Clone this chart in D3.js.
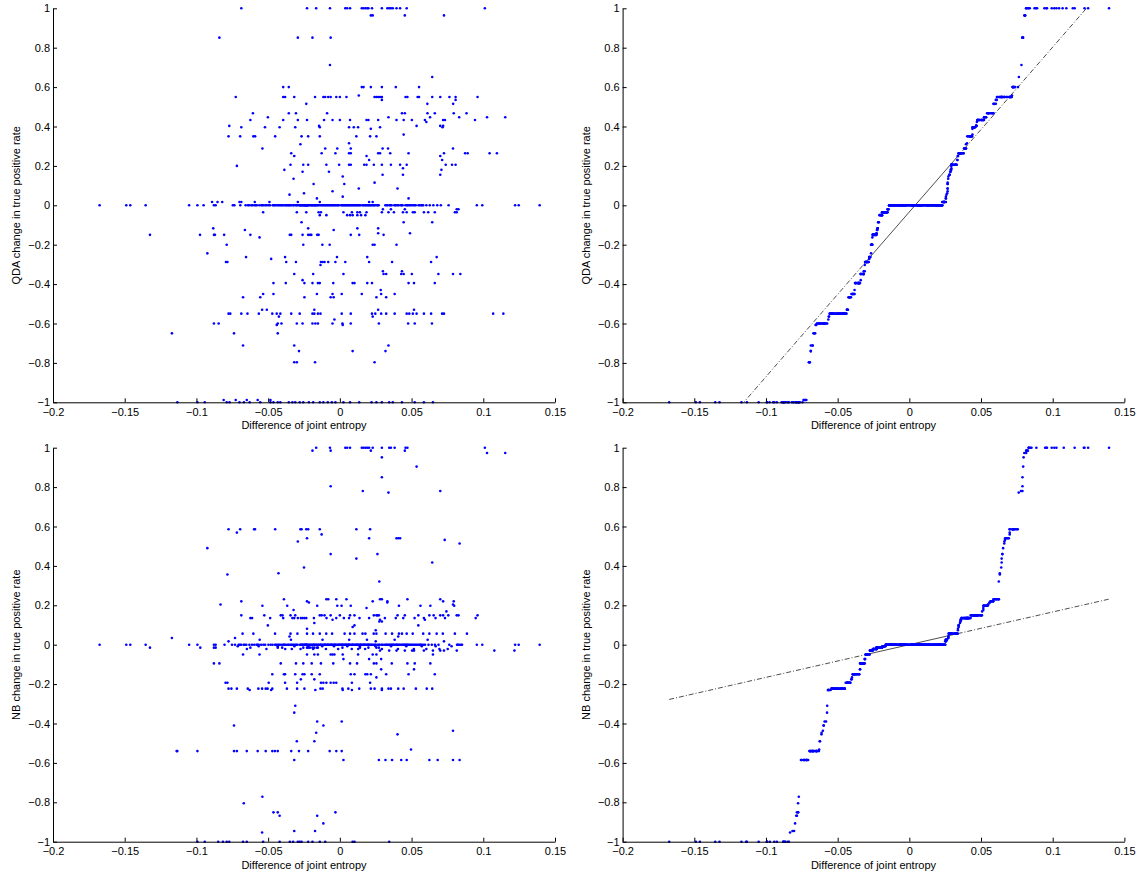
<!DOCTYPE html>
<html lang="en">
<head>
<meta charset="UTF-8">
<title>Joint entropy difference vs change in true positive rate</title>
<script src="https://cdn.jsdelivr.net/npm/d3@7"></script>
<style>
  body { margin: 0; background: #fff; }
  svg text { font-family: "Liberation Sans", Arial, Helvetica, sans-serif; }
</style>
</head>
<body>
<svg id="fig" width="1136" height="875"></svg>
<script>
const xTicks = [-0.2, -0.15, -0.1, -0.05, 0, 0.05, 0.1, 0.15];
const yTicks = [-1, -0.8, -0.6, -0.4, -0.2, 0, 0.2, 0.4, 0.6, 0.8, 1];
const xLabel = "Difference of joint entropy";
const qdaLabel = "QDA change in true positive rate";
const nbLabel = "NB change in true positive rate";

// QDA: x of the points that sit on y = 0 (the dense band)
const qdaZeroX = [-0.1675, -0.1489, -0.1461, -0.1354, -0.1051, -0.0993, -0.095, -0.0878, -0.0866, -0.0746, -0.0735,
  -0.0694, -0.0657,
  -0.0641, -0.0633, -0.0618, -0.0609, -0.0596, -0.0587, -0.0579,
  -0.0562, -0.0548, -0.0541, -0.0531, -0.0519, -0.0508, -0.0496, -0.0487, -0.0468, -0.0461, -0.0455, -0.0447,
  -0.0436, -0.0428, -0.0419, -0.0411, -0.0404, -0.0397, -0.0386, -0.0379, -0.0372, -0.0365, -0.0358, -0.0353, -0.0347,
  -0.0338, -0.0326, -0.0321, -0.0309, -0.0302, -0.0296, -0.0284,
  -0.0279, -0.0276, -0.0271, -0.0266, -0.0262, -0.0258, -0.0253, -0.0249, -0.0246, -0.0243, -0.0239, -0.0236,
  -0.0233, -0.0231, -0.0229,
  -0.0226, -0.0223, -0.0218, -0.0212, -0.0204, -0.0197, -0.0193, -0.0189, -0.0181, -0.0176, -0.0171, -0.0168,
  -0.0162, -0.0155, -0.0149,
  -0.0139, -0.0131, -0.0124, -0.0117, -0.0109, -0.0103, -0.0096, -0.0088, -0.0083, -0.0075, -0.0068, -0.0061,
  -0.0055, -0.0047, -0.0041, -0.0034, -0.0027, -0.0019, -0.0012, -0.0006, 0.0009, 0.0016, 0.0022, 0.0029,
  0.0035, 0.0043, 0.0049, 0.0056, 0.0062, 0.0069, 0.0077, 0.0083, 0.0091, 0.0097, 0.0104, 0.0111, 0.0118,
  0.0124, 0.0131, 0.0138, 0.0144, 0.0158, 0.0163, 0.0171, 0.0177, 0.0184, 0.0192, 0.0198, 0.0205, 0.0211,
  0.0218, 0.0225,
  0.0233, 0.0239, 0.0246, 0.0259, 0.0264, 0.0271,
  0.0317, 0.0327, 0.0334, 0.0348, 0.0353, 0.0361, 0.0379, 0.0386, 0.0392, 0.0404, 0.0411, 0.0426, 0.0431,
  0.0438, 0.0457,
  0.0468, 0.0474, 0.0484, 0.0491, 0.0502, 0.0513, 0.0521, 0.0529, 0.0548, 0.0556, 0.0567, 0.0574, 0.0581,
  0.0603, 0.0627, 0.0652, 0.0679, 0.0704, 0.0758,
  0.0955, 0.0993, 0.1222, 0.1247, 0.1393];

// QDA: every other level, as [y, x values on that level]
const qdaRows = [
  [1, [-0.0687, -0.0229, -0.0165, -0.0069, 0.0038, 0.0051, 0.0071, 0.0153, 0.0165, 0.0178, 0.0191, 0.0199, 0.0224,
       0.0293, 0.0331, 0.0344, 0.0356, 0.0369, 0.0395, 0.042, 0.0466, 0.1011]],
  [0.964, [0.0216, 0.0229, 0.0453, 0.0726]],
  [0.851, [-0.084, -0.0293, -0.0191, -0.0064]],
  [0.712, [-0.0069]],
  [0.651, [0.0644]],
  [0.6, [-0.0395, -0.0356, 0.0153, 0.0165, 0.0216, 0.0293, 0.039, 0.0552]],
  [0.557, [0.0132]],
  [0.55, [-0.0726, -0.0395, -0.0382, -0.0318, -0.0173, -0.0115, -0.0102, -0.0081, -0.0064, -0.0025, 0, 0.0046,
          0.0242, 0.0255, 0.0267, 0.028, 0.0293, 0.0458, 0.0471, 0.0542, 0.0552, 0.0644, 0.07, 0.0764, 0.0807, 0.096]],
  [0.535, [0.0293, 0.0807]],
  [0.515, [-0.0234, 0.061, 0.079]],
  [0.467, [-0.0606, -0.0356, -0.0306, -0.0089, 0.0433, 0.0453, 0.0611, 0.0662, 0.0794, 0.0883]],
  [0.447, [-0.0502, 0.0339, 0.0629, 0.0832, 0.1026, 0.1153]],
  [0.433, [-0.0624, -0.0395, -0.0293, -0.0229, -0.011, -0.0051, 0, 0.0071, 0.0186, 0.0199, 0.0267, 0.0395,
           0.0445, 0.0502, 0.0593, 0.072, 0.0733, 0.0942]],
  [0.423, [0.0603]],
  [0.403, [-0.0771, -0.0145, 0.0535, 0.07, 0.072]],
  [0.396, [-0.0687, -0.0522, -0.042, -0.0311, -0.014, 0.0064, 0.0097, 0.0127, 0.028, 0.0716]],
  [0.388, [0.0216]],
  [0.359, [0.0445]],
  [0.35, [-0.0776, -0.0695, -0.0603, -0.0591, -0.0451, -0.0267, -0.0221, -0.014, 0.0115, 0.0211, 0.0255]],
  [0.315, [0.0064]],
  [0.31, [-0.0275]],
  [0.288, [-0.054, -0.0102, -0.0018, 0.0076, 0.0298, 0.0336, 0.0789]],
  [0.264, [-0.0339, -0.0127, -0.0031, 0.0064, 0.0076, 0.0267, 0.028, 0.0351, 0.0479, 0.0726, 0.0873, 0.0891,
           0.1044, 0.1095]],
  [0.25, [-0.0318, 0.0186, 0.07]],
  [0.23, [0.0204, 0.0713]],
  [0.206, [-0.0344, -0.0255, -0.0221, -0.0094, -0.0005, 0.0064, 0.0076, 0.017, 0.0186, 0.0237, 0.0293, 0.0356,
           0.042, 0.0466, 0.0738, 0.0782, 0.0807]],
  [0.2, [-0.0718]],
  [0.188, [0.044]],
  [0.18, [-0.0387, 0.0708]],
  [0.17, [-0.026, -0.0076]],
  [0.155, [0.0298, 0.044, 0.07]],
  [0.146, [0.002]],
  [0.135, [-0.0323]],
  [0.115, [0.0242]],
  [0.108, [-0.0183, 0.0031]],
  [0.085, [0.0132, 0.0402]],
  [0.071, [-0.0051]],
  [0.061, [-0.025]],
  [0.054, [-0.0351]],
  [0.044, [0.002]],
  [0.035, [-0.016, 0.0479]],
  [0.017, [-0.0891, -0.0853, -0.082, -0.07, -0.0687, -0.0593, -0.0491, -0.0293, -0.014, 0.0204, 0.0229]],
  [-0.02, [0.03, 0.0356, 0.0453, 0.0815, 0.0827]],
  [-0.035, [-0.0535, -0.03, -0.0234, -0.0148, -0.0132, 0.0025, 0.0084, 0.0122, 0.014, 0.0186, 0.0293, 0.0339,
            0.0377, 0.044, 0.0466, 0.0509, 0.0522, 0.0586, 0.0616, 0.0662, 0.0802, 0.0815]],
  [-0.05, [-0.014, -0.0094, 0.0051, 0.0071, 0.0089, 0.0122, 0.0148, 0.0178]],
  [-0.086, [-0.0267, 0.0445, 0.0644]],
  [-0.117, [-0.0883, -0.0221, 0.0122, 0.0267]],
  [-0.125, [-0.0662, -0.0043]],
  [-0.142, [0.0267, 0.0489]],
  [-0.15, [-0.1324, -0.0975, -0.0878, -0.0871, -0.0807, -0.0624, -0.0349, -0.0339, -0.026, -0.0221, -0.0209,
           -0.0199, -0.0158, -0.0148, 0.0076, 0.0135, 0.0305]],
  [-0.163, [-0.056]],
  [-0.2, [-0.0789, -0.0255, -0.0122, -0.0071, 0.0229, 0.0242, 0.0395]],
  [-0.244, [-0.0924]],
  [-0.263, [-0.0654, -0.0382, -0.002, 0.0191, 0.0675]],
  [-0.272, [-0.0479]],
  [-0.288, [-0.0794, -0.0784, -0.0374, -0.0306, -0.0132, -0.012, -0.0107, -0.0081, -0.0031, 0.0038, 0.0204,
            0.0364, 0.0636]],
  [-0.303, [-0.0135]],
  [-0.335, [0.03, 0.0433]],
  [-0.349, [-0.0318, -0.0186, 0.0025, 0.0305, 0.0323, 0.0428, 0.0445, 0.0502, 0.0687, 0.0789, 0.084]],
  [-0.38, [-0.026]],
  [-0.395, [-0.0463, -0.0377, -0.0247, -0.0191, -0.0153, -0.014, -0.0046, 0.0089, 0.0102, 0.0191, 0.0224,
            0.0479, 0.0517, 0.0662]],
  [-0.43, [0.0285]],
  [-0.45, [-0.0535, -0.0463, -0.016, -0.0051, 0.0013, 0.0153, 0.0288, 0.0382]],
  [-0.467, [-0.0675, -0.0555, -0.0247, -0.0064, -0.0043, 0.0255, 0.0323]],
  [-0.53, [-0.0542, -0.0509, -0.0178, 0.0267, 0.0517]],
  [-0.55, [-0.0776, -0.0764, -0.0687, -0.0644, -0.0565, -0.0471, -0.044, -0.0415, -0.0339, -0.028, -0.0191,
           -0.0178, -0.0153, -0.0135, 0.0013, 0.0076, 0.0224, 0.0247, 0.0288, 0.0323, 0.0382, 0.0466, 0.0484,
           0.0509, 0.0535, 0.0586, 0.0636, 0.0713, 0.0726, 0.1069, 0.114]],
  [-0.565, [-0.0425, 0.0229]],
  [-0.58, [-0.0038]],
  [-0.6, [-0.0878, -0.0845, -0.0433, -0.0407, -0.03, -0.026, -0.0191, -0.0171, -0.0153, -0.0051, 0.0018, 0.0076,
          0.0272, 0.0476, 0.0522, 0.0642]],
  [-0.607, [-0.044, 0.002]],
  [-0.65, [-0.1171, -0.0738, -0.0433]],
  [-0.712, [-0.0675, -0.0318, 0.0339]],
  [-0.74, [-0.0285, 0.0089, 0.0318]],
  [-0.797, [-0.0318, -0.03, -0.0173, 0.0242]],
  [-0.988, [-0.081, -0.0726, -0.0649, -0.0573, -0.0484]],
  [-1, [-0.1133, -0.0993, -0.0942, -0.0789, -0.0769, -0.07, -0.0669, -0.0629, -0.0555, -0.0484, -0.0463, -0.0433,
        -0.0415, -0.0356, -0.0331, -0.0311, -0.028, -0.0255, -0.0216, -0.0186, -0.014, -0.0115, -0.0084, -0.0056,
        -0.0031, 0.0025, 0.0071, 0.0135, 0.0221, 0.0255, 0.0293, 0.0344, 0.0369, 0.0433, 0.0522, 0.0586, 0.0649]]
];

// NB: x of the points on y = 0
const nbZeroX = [-0.1675, -0.1489, -0.1461, -0.1354, -0.1051, -0.0993, -0.0878, -0.0866, -0.0804, -0.0752, -0.0731,
  -0.0706, -0.0697, -0.0688, -0.0671, -0.0663, -0.0652,
  -0.0631, -0.0613, -0.0597, -0.0581, -0.0574,
  -0.0566, -0.0549, -0.0533, -0.0521, -0.0498, -0.0482, -0.0469, -0.0452, -0.0444,
  -0.0435, -0.0426, -0.0417, -0.0405, -0.0394, -0.0389, -0.0383, -0.0373, -0.0362, -0.0355, -0.0344,
  -0.0336, -0.0328, -0.0319, -0.0308, -0.0303, -0.0294,
  -0.0277, -0.0273, -0.0268, -0.0262, -0.0257, -0.0251, -0.0246, -0.0242, -0.0238, -0.0235, -0.0231,
  -0.0228, -0.0224, -0.0215, -0.0209, -0.0202, -0.0195, -0.0187, -0.0184, -0.0179, -0.0174, -0.0166, -0.0161,
  -0.0152, -0.0147,
  -0.0138, -0.0133, -0.0129, -0.0122, -0.0114, -0.0107, -0.0104, -0.0101, -0.0093, -0.0087, -0.0083, -0.0079,
  -0.0072, -0.0066, -0.0061, -0.0058, -0.0052, -0.0045, -0.0038, -0.0035, -0.0031, -0.0024, -0.0017, -0.0009,
  -0.0006, -0.0003, 0.0005, 0.0011, 0.0015, 0.0018, 0.0024, 0.0031, 0.0038, 0.0041, 0.0044, 0.0051, 0.0058,
  0.0062, 0.0065, 0.0071, 0.0079, 0.0086, 0.0089, 0.0093, 0.0099, 0.0107, 0.0113, 0.0117, 0.0121, 0.0127,
  0.0134, 0.0141, 0.0144, 0.0147, 0.0154, 0.0161, 0.0167, 0.0171, 0.0174, 0.0181, 0.0187, 0.0195, 0.0198,
  0.0201, 0.0208, 0.0214, 0.0221, 0.0227,
  0.0236, 0.0244, 0.0249, 0.0262, 0.0271,
  0.0278, 0.0291, 0.0297, 0.0309,
  0.0319, 0.0324, 0.0331, 0.0338, 0.0345, 0.0353, 0.0359, 0.0366, 0.0371, 0.0378, 0.0386, 0.0393, 0.0398,
  0.0403, 0.0411, 0.0419, 0.0427, 0.0436, 0.0441, 0.0448, 0.0455,
  0.0462, 0.0467, 0.0474, 0.0481, 0.0489, 0.0497, 0.0506, 0.0516, 0.0524, 0.0533, 0.0541, 0.0551, 0.0559,
  0.0565, 0.0572, 0.0583, 0.0594,
  0.0618, 0.0641, 0.0663, 0.0688, 0.0763,
  0.0817, 0.0822, 0.0831, 0.0843, 0.0852, 0.0955, 0.0993, 0.1222, 0.1247, 0.1393];

const nbRows = [
  [1, [-0.0165, -0.0069, 0.0038, 0.0051, 0.0071, 0.0153, 0.0165, 0.0178, 0.0191, 0.0204, 0.0229, 0.0293, 0.0344,
       0.0356, 0.0382, 0.0458, 0.0471, 0.1011]],
  [0.985, [-0.0191, -0.0064, 0.0216, 0.0453]],
  [0.973, [0.1026, 0.1153]],
  [0.951, [0.0293]],
  [0.904, [0.0535]],
  [0.85, [0.0293]],
  [0.804, [-0.0064]],
  [0.78, [0.016, 0.07]],
  [0.772, [0.0339]],
  [0.586, [-0.0776, -0.0695, -0.0598, -0.0591, -0.0451, -0.0275, -0.0267, -0.0234, -0.0221, -0.014, 0.0115, 0.0211]],
  [0.569, [-0.0718]],
  [0.56, [-0.0127]],
  [0.54, [-0.0229, 0.0204, 0.0395, 0.0407, 0.042]],
  [0.532, [0.0731]],
  [0.524, [-0.0293]],
  [0.514, [0.0835]],
  [0.49, [-0.0924]],
  [0.46, [-0.0064, 0.0262]],
  [0.437, [0.0115]],
  [0.417, [0.0644]],
  [0.392, [-0.025]],
  [0.363, [-0.0428]],
  [0.356, [-0.0784]],
  [0.321, [0.0275]],
  [0.231, [-0.039, -0.0094, -0.0081, -0.0025, 0.0046, 0.028, 0.0293, 0.0471, 0.07]],
  [0.22, [-0.0687, -0.0229, 0.0229, 0.0331, 0.072, 0.0794]],
  [0.214, [-0.0216, 0.0331]],
  [0.204, [-0.0832, 0.0789]],
  [0.198, [-0.054, -0.0367, -0.0158, -0.0018, 0.0012, 0.0076, 0.0412, 0.0562, 0.0631, 0.0797]],
  [0.186, [0.0186]],
  [0.176, [-0.0323]],
  [0.169, [0.0743]],
  [0.149, [-0.0687, -0.0527, -0.0412, -0.04, -0.0344, -0.0311, -0.014, -0.0127, -0.0107, -0.0064, 0, 0.0071,
           0.0102, 0.0237, 0.0255, 0.0262, 0.0272, 0.0402, 0.0453, 0.0547, 0.0624, 0.0654, 0.07, 0.072, 0.0756,
           0.0815, 0.0827, 0.096]],
  [0.135, [-0.0624, -0.0612, -0.0486, -0.0395, -0.0331, -0.0318, -0.0293, -0.0272, -0.026, -0.0247, -0.0234,
           -0.0181, -0.0093, -0.0025, 0.0028, 0.0064, 0.0137, 0.0204, 0.0314, 0.039, 0.0442, 0.0521, 0.0586,
           0.0667, 0.0733, 0.0947]],
  [0.127, [-0.0051, 0.028, 0.0593]],
  [0.118, [0.0275, 0.0293]],
  [0.11, [-0.0178]],
  [0.098, [-0.0502, 0.0102, 0.0547]],
  [0.09, [0.0089]],
  [0.081, [-0.0229]],
  [0.073, [0.025]],
  [0.056, [-0.0678, -0.0603, -0.0452, -0.0344, -0.0296, -0.0229, -0.0187, -0.014, -0.0095, -0.0054, 0.0033,
           0.0071, 0.0102, 0.0158, 0.0178, 0.0236, 0.0255, 0.0319, 0.0364, 0.0412, 0.0433, 0.0466, 0.0508,
           0.0581, 0.0624, 0.0675, 0.0718, 0.0802, 0.0886]],
  [0.042, [-0.0351, 0.0407]],
  [0.034, [-0.1171, -0.0731]],
  [0.025, [-0.0559, -0.0341, -0.0121, 0.0065, 0.0189, 0.0382, 0.0612]],
  [0.017, [-0.0776, 0.025, 0.0726]],
  [-0.008, [-0.0712, -0.0566, -0.0433, -0.0317, -0.0221, -0.0123, -0.0041, 0.0052, 0.0139, 0.0248, 0.0357,
            0.0463, 0.0571, 0.0668, 0.0779]],
  [-0.015, [-0.1324, -0.0973, -0.0878, -0.0866, -0.0624, -0.0433, -0.0402, -0.0255, -0.0229, -0.0221, -0.0209,
            -0.0191, -0.0178, -0.016, -0.0153, 0.0018, 0.014, 0.0199, 0.0255, 0.0272]],
  [-0.022, [-0.0648, -0.0512, -0.0381, -0.0335, -0.0274, -0.0186, -0.0097, -0.0012, 0.0083, 0.0128, 0.0176,
            0.0293, 0.0405, 0.0516, 0.0603, 0.0694, 0.0752]],
  [-0.03, [0.028, 0.0344, 0.0395, 0.0453, 0.0504, 0.0517, 0.0586, 0.0649, 0.07, 0.0726, 0.0815, 0.1077, 0.1217]],
  [-0.05, [-0.0675, -0.056, -0.0229, -0.0178, -0.0153, -0.0064, -0.0051, -0.0038, 0.002, 0.0127, 0.0229, 0.0255,
           0.0649]],
  [-0.073, [0.0025, 0.0204, 0.0288]],
  [-0.095, [-0.0878, -0.084, -0.0412, -0.0306, -0.0255, -0.0196, -0.0132, -0.0046, 0.0071, 0.012, 0.0237, 0.0255,
            0.0362, 0.0471, 0.0522, 0.0631]],
  [-0.125, [0.0288, 0.0517]],
  [-0.15, [-0.0471, -0.039, -0.0382, -0.0311, -0.026, -0.0247, -0.0196, -0.014, 0.0076, 0.0102, 0.0178, 0.0191,
           0.0216, 0.0323, 0.0479, 0.0662]],
  [-0.166, [0.0255]],
  [-0.176, [-0.0272, -0.0178]],
  [-0.193, [-0.0797, -0.0784, -0.0496, -0.0382, -0.0298, -0.0132, -0.0115, -0.0094, -0.0064, -0.0043, -0.0025,
            0.0084, 0.0211]],
  [-0.223, [-0.0776, -0.0756, -0.0718, -0.0642, -0.0568, -0.0542, -0.0517, -0.0504, -0.0471, -0.0369, -0.0298,
            -0.0247, -0.0135, -0.012, 0.0018, 0.0059, 0.0135, 0.0216, 0.0242, 0.0293, 0.0339, 0.0356, 0.0407,
            0.0445, 0.053, 0.0606, 0.0644]],
  [-0.23, [-0.0629, -0.0479, -0.0171, 0.002, 0.0084, 0.0293]],
  [-0.31, [-0.0311]],
  [-0.345, [-0.0318]],
  [-0.39, [-0.0158, 0.0013]],
  [-0.41, [-0.0738, -0.0115]],
  [-0.437, [0.0789]],
  [-0.447, [-0.0165]],
  [-0.455, [0.0402]],
  [-0.49, [-0.03, -0.0178]],
  [-0.532, [0.0496]],
  [-0.54, [-0.1138, -0.1133, -0.0993, -0.0738, -0.0718, -0.0649, -0.0573, -0.0517, -0.0471, -0.0453, -0.0433,
           -0.0339, -0.0285, -0.0221, -0.0071, -0.0025, 0.0013]],
  [-0.585, [-0.0318, 0.0025, 0.0272, 0.0318, 0.0364, 0.0428, 0.0466, 0.0624, 0.0682, 0.0789, 0.0835]],
  [-0.772, [-0.054]],
  [-0.805, [-0.067]],
  [-0.851, [-0.0463, -0.0433, -0.0031]],
  [-0.868, [-0.042, -0.0158]],
  [-0.907, [-0.0115]],
  [-0.946, [-0.0318, -0.0173]],
  [-0.953, [-0.0542]],
  [-1, [-0.0993, -0.0942, -0.0848, -0.0815, -0.0789, -0.0771, -0.0675, -0.0649, -0.0535, -0.042, -0.0349, -0.0326,
        -0.0293, -0.028, -0.0267, -0.0221, -0.0191, -0.014, -0.0102, 0.0089, 0.0102, 0.0344]]
];

// ---- layout ----
const svg = d3.select("#fig");
const panels = [
  {rows: qdaRows, zeros: qdaZeroX, yLabel: qdaLabel, qq: false, left: 53, right: 555, top: 8.3, bottom: 402.3, labelX: 16},
  {rows: qdaRows, zeros: qdaZeroX, yLabel: qdaLabel, qq: true, left: 622.6, right: 1124.4, top: 8.3, bottom: 402.3, labelX: 586},
  {rows: nbRows, zeros: nbZeroX, yLabel: nbLabel, qq: false, left: 53, right: 555, top: 447.7, bottom: 841.7, labelX: 16},
  {rows: nbRows, zeros: nbZeroX, yLabel: nbLabel, qq: true, left: 622.6, right: 1124.4, top: 447.7, bottom: 841.7, labelX: 586}
];

const fmt = d => (d < 0 ? "\u2212" : "") + Math.abs(d);

// matlab style percentile on sorted data
function prctile(s, p) {
  const n = s.length;
  const pos = n * p + 0.5;
  if (pos <= 1) return s[0];
  if (pos >= n) return s[n - 1];
  const i = Math.floor(pos);
  return s[i - 1] + (pos - i) * (s[i] - s[i - 1]);
}

panels.forEach((p, k) => {
  const x = d3.scaleLinear().domain([-0.2, 0.15]).range([p.left, p.right]);
  const y = d3.scaleLinear().domain([-1, 1]).range([p.bottom, p.top]);
  const g = svg.append("g");

  const pts = p.rows.flatMap(([v, xs]) => xs.map(xv => [xv, v]))
    .concat(p.zeros.map(xv => [xv, 0]));

  let drawn = pts;
  if (p.qq) {
    // quantile-quantile: sorted x against sorted y
    const sx = d3.sort(pts.map(d => d[0]));
    const sy = d3.sort(pts.map(d => d[1]));
    drawn = sx.map((xv, i) => [xv, sy[i]]);

    const qx1 = prctile(sx, 0.25), qx3 = prctile(sx, 0.75);
    const qy1 = prctile(sy, 0.25), qy3 = prctile(sy, 0.75);
    const slope = (qy3 - qy1) / (qx3 - qx1);
    const at = xv => qy1 + slope * (xv - qx1);
    const xmin = sx[0], xmax = sx[sx.length - 1];

    const clipId = "clip" + k;
    g.append("clipPath").attr("id", clipId).append("rect")
      .attr("x", p.left).attr("y", p.top).attr("width", p.right - p.left).attr("height", p.bottom - p.top);
    const lines = g.append("g").attr("clip-path", `url(#${clipId})`);
    const seg = (a, b, dash) => lines.append("line")
      .attr("x1", x(a)).attr("y1", y(at(a))).attr("x2", x(b)).attr("y2", y(at(b)))
      .attr("stroke", "#000").attr("stroke-width", 0.7).attr("stroke-dasharray", dash);
    seg(xmin, qx1, "5,2,1,2");
    seg(qx3, xmax, "5,2,1,2");
    seg(qx1, qx3, null);
  }

  g.append("g").selectAll("circle").data(drawn).join("circle")
    .attr("cx", d => x(d[0])).attr("cy", d => y(d[1])).attr("r", 1.3)
    .attr("fill", "#0000ff");

  const ax = g.append("g").attr("transform", `translate(0,${p.bottom})`)
    .call(d3.axisBottom(x).tickValues(xTicks).tickSize(-4).tickSizeOuter(0).tickPadding(6).tickFormat(fmt));
  const ay = g.append("g").attr("transform", `translate(${p.left},0)`)
    .call(d3.axisLeft(y).tickValues(yTicks).tickSize(-4).tickSizeOuter(0).tickPadding(3).tickFormat(fmt));
  [ax, ay].forEach(a => a.attr("font-size", 11).attr("font-family", "'Liberation Sans', Arial, sans-serif"));

  g.append("text").attr("x", (p.left + p.right) / 2).attr("y", p.bottom + 27)
    .attr("text-anchor", "middle").attr("font-size", 11).text(xLabel);
  g.append("text").attr("transform", `translate(${p.labelX},${(p.top + p.bottom) / 2}) rotate(-90)`)
    .attr("text-anchor", "middle").attr("dy", "0.35em").attr("font-size", 11).text(p.yLabel);
});
</script>
</body>
</html>
